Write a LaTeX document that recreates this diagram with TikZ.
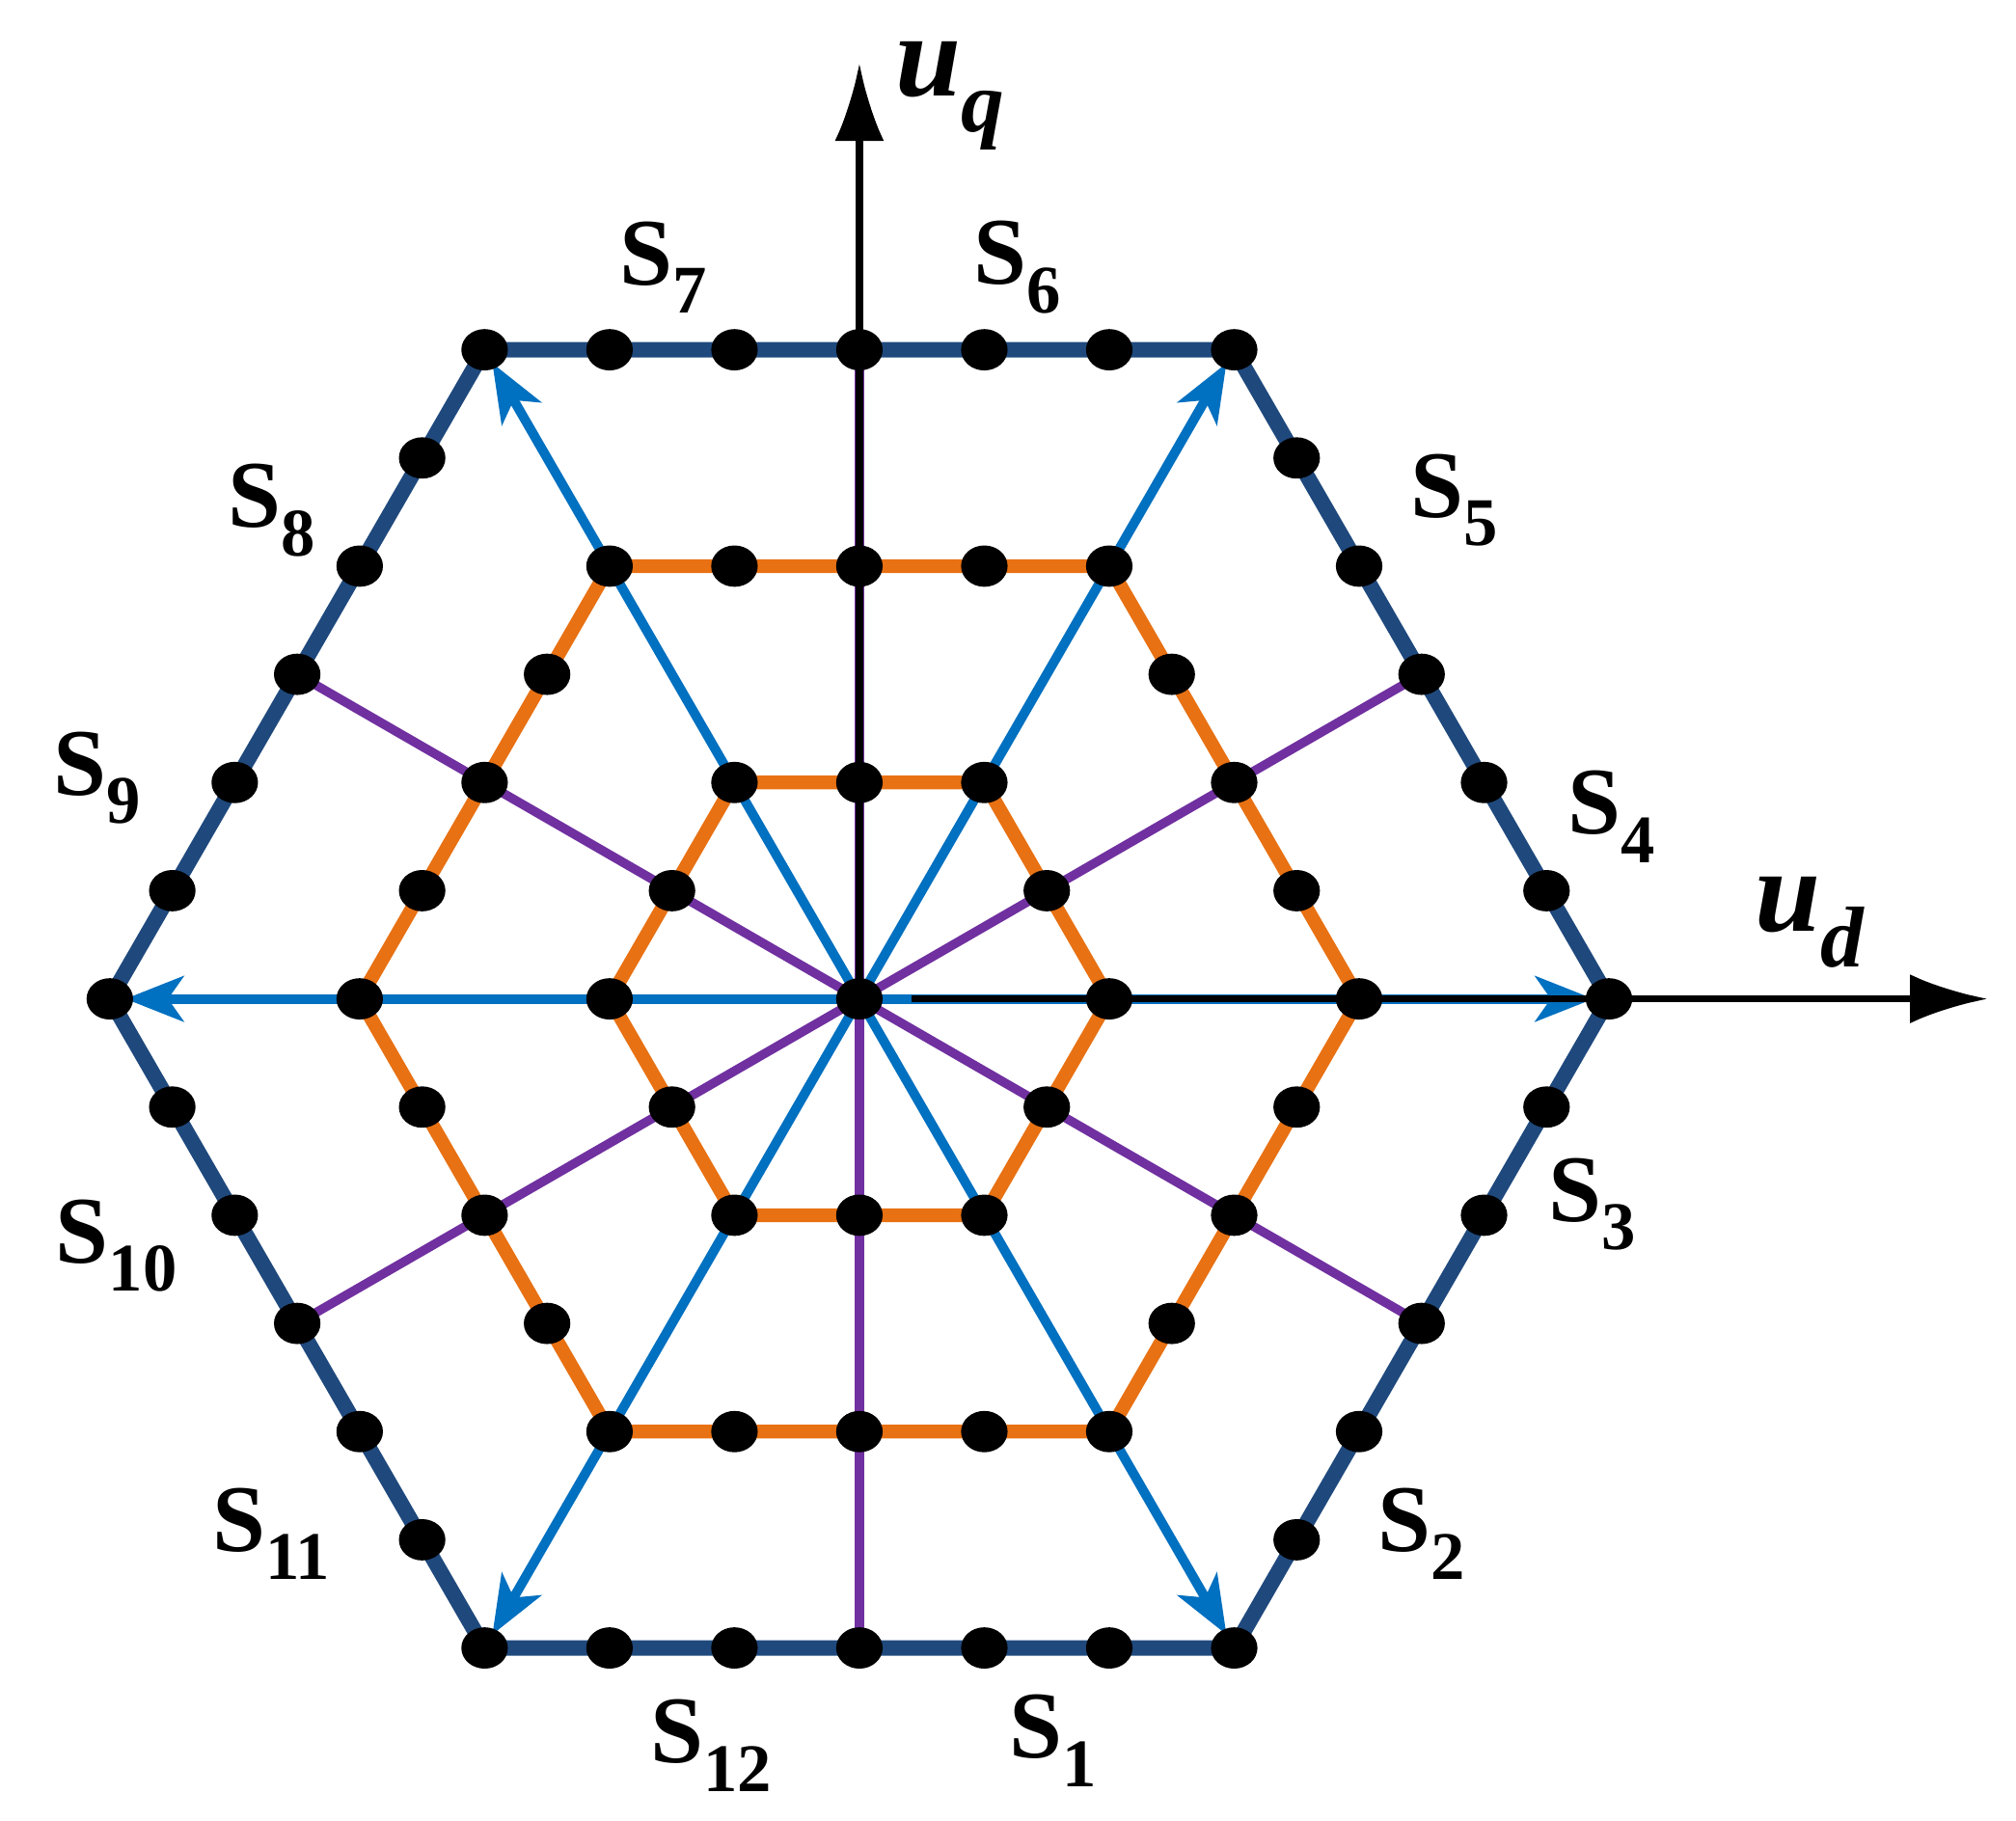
\documentclass[tikz,border=0pt]{standalone}
\usepackage{fontspec}
\setmainfont{Liberation Serif}
\usetikzlibrary{calc,arrows.meta}
\definecolor{navyc}{RGB}{31,73,125}
\definecolor{orangec}{RGB}{232,113,19}
\definecolor{bluec}{RGB}{0,112,192}
\definecolor{purpc}{RGB}{112,48,160}
\newcommand{\Slab}[1]{S\raisebox{-0.3em}{\fontsize{15}{16}\selectfont #1}}
\tikzset{
 outerline/.style={navyc,line width=3.4pt,line join=round},
 orangeline/.style={orangec,line width=3pt,line join=round},
 blueline/.style={bluec,line width=2.1pt,-{Stealth[length=0.45cm,width=0.35cm,inset=0.12cm]}},
 purpline/.style={purpc,line width=2pt},
 axisline/.style={black,line width=1.6pt,-{Latex[length=0.6cm,width=0.38cm]}},
 dotnode/.style={fill=black,ellipse,minimum width=0.36cm,minimum height=0.32cm,inner sep=0pt},
 slabel/.style={font=\fontsize{21}{24}\selectfont\bfseries},
}
\usetikzlibrary{shapes.geometric}
\begin{document}
\begin{tikzpicture}
\useasboundingbox (0,0) rectangle (15.6,14.09);
\coordinate (C) at (6.65,6.36);
\foreach \k in {2,4,6}{
 \foreach \i in {0,...,6}{
  \coordinate (P\k-\i) at ($(C)+(\i*60:\k*0.9667)$);
 }
}
\foreach \i in {0,...,5}{
 \coordinate (E\i) at ($(P6-\i)!0.5!(P6-\the\numexpr\i+1\relax)$);
 \draw[purpline] (C) -- (E\i);
}
\draw[orangeline] (P4-0)--(P4-1)--(P4-2)--(P4-3)--(P4-4)--(P4-5)--cycle;
\draw[orangeline] (P2-0)--(P2-1)--(P2-2)--(P2-3)--(P2-4)--(P2-5)--cycle;
\foreach \i in {0,...,5}{
 \draw[blueline,shorten >=0.12cm] (C) -- (P6-\i);
}
\draw[outerline] (P6-0)--(P6-1)--(P6-2)--(P6-3)--(P6-4)--(P6-5)--cycle;
\coordinate (AxQ) at (6.65,13.6);
\coordinate (AxDs) at (7.05,6.36);
\coordinate (AxD) at (15.38,6.36);
\draw[axisline] (C) -- (AxQ);
\draw[axisline] (AxDs) -- (AxD);
\node[dotnode] (c0) at (C) {};
\foreach \k in {2,4,6}{
 \foreach \i in {0,...,5}{
  \pgfmathtruncatemacro{\kk}{\k-1}
  \foreach \j in {0,...,\kk}{
   \node[dotnode] (d\k-\i-\j) at ($(P\k-\i)!\j/\k!(P\k-\the\numexpr\i+1\relax)$) {};
  }
 }
}
\node[font=\fontsize{26}{30}\selectfont\bfseries\itshape] (lq) at (7.35,13.35) {u\raisebox{-0.3em}{\fontsize{19}{20}\selectfont q}};
\node[font=\fontsize{26}{30}\selectfont\bfseries\itshape] (ld) at (14.0,6.95) {u\raisebox{-0.3em}{\fontsize{19}{20}\selectfont d}};
\node[slabel] (s1) at (8.15,0.62) {\Slab{1}};
\node[slabel] (s12) at (5.5,0.58) {\Slab{12}};
\node[slabel] (s2) at (11.0,2.22) {\Slab{2}};
\node[slabel] (s3) at (12.32,4.77) {\Slab{3}};
\node[slabel] (s4) at (12.47,7.77) {\Slab{4}};
\node[slabel] (s5) at (11.25,10.22) {\Slab{5}};
\node[slabel] (s6) at (7.87,12.02) {\Slab{6}};
\node[slabel] (s7) at (5.13,12.02) {\Slab{7}};
\node[slabel] (s8) at (2.1,10.14) {\Slab{8}};
\node[slabel] (s9) at (0.75,8.07) {\Slab{9}};
\node[slabel] (s10) at (0.9,4.45) {\Slab{10}};
\node[slabel] (s11) at (2.1,2.22) {\Slab{11}};
\end{tikzpicture}
\end{document}
